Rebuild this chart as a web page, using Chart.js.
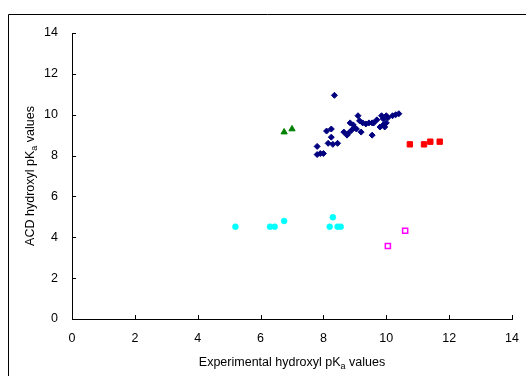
<!DOCTYPE html>
<html>
<head>
<meta charset="utf-8">
<script src="https://cdn.jsdelivr.net/npm/chart.js@4.4.1/dist/chart.umd.min.js"></script>
<style>
  html, body { margin: 0; padding: 0; background: #fff; overflow: hidden; }
  canvas { display: block; }
</style>
</head>
<body>
<canvas id="chart" width="526" height="376"></canvas>
<script>
// ── Data ─────────────────────────────────────────────────────
const blueX = [8.35, 7.8, 7.8, 7.9, 8.0, 8.1, 8.25, 8.25, 8.15, 8.3, 8.45, 8.65, 8.75, 8.85, 8.9,
               9.0, 9.1, 9.15, 9.2, 9.25, 9.45, 9.55, 9.55, 9.7, 9.6, 9.85, 9.9, 9.9, 9.95, 9.8,
               10.0, 10.0, 10.05, 10.3, 10.4, 10.2, 8.8, 9.05, 9.35, 8.95];
const blueY = [10.95, 8.45, 8.05, 8.1, 8.1, 9.2, 9.3, 8.9, 8.6, 8.55, 8.6, 9.15, 9.0, 9.6, 9.25,
               9.35, 9.95, 9.7, 9.15, 9.6, 9.6, 9.0, 9.6, 9.75, 9.6, 9.95, 9.8, 9.5, 9.4, 9.4,
               9.95, 9.6, 9.85, 10.0, 10.05, 9.95, 9.1, 9.3, 9.55, 9.5];

const greenX = [6.75, 7.0];
const greenY = [9.15, 9.3];

const redX = [10.75, 11.2, 11.4, 11.7];
const redY = [8.55, 8.55, 8.68, 8.68];

const cyanX = [5.2, 6.3, 6.45, 6.75, 8.3, 8.2, 8.45, 8.55];
const cyanY = [4.52, 4.52, 4.52, 4.8, 4.98, 4.52, 4.52, 4.52];

const magentaX = [10.05, 10.6];
const magentaY = [3.57, 4.32];

const xTicks = [0, 2, 4, 6, 8, 10, 12, 14];
const yTicks = [0, 2, 4, 6, 8, 10, 12, 14];

const FONT = "'Liberation Sans', Arial, sans-serif";

const pts = (xs, ys) => xs.map((x, i) => ({ x, y: ys[i] }));

// ── Frame, inner ticks and subscripted axis titles ───────────
function drawSubText(ctx, parts, x, y) {
  // parts: [text, sub, text]
  const big = '12.5px ' + FONT;
  const small = '9px ' + FONT;
  ctx.font = big;
  const w0 = ctx.measureText(parts[0]).width;
  const w2 = ctx.measureText(parts[2]).width;
  ctx.font = small;
  const w1 = ctx.measureText(parts[1]).width;
  let cx = x - (w0 + w1 + w2) / 2;
  ctx.textAlign = 'left';
  ctx.textBaseline = 'alphabetic';
  ctx.font = big;
  ctx.fillText(parts[0], cx, y);
  cx += w0;
  ctx.font = small;
  ctx.fillText(parts[1], cx, y + 3);
  cx += w1;
  ctx.font = big;
  ctx.fillText(parts[2], cx, y);
}

const decor = {
  id: 'decor',
  beforeDraw(chart) {
    const ctx = chart.ctx;
    ctx.save();
    ctx.strokeStyle = '#000';
    ctx.lineWidth = 1;
    ctx.beginPath();
    ctx.moveTo(8.5, 376);
    ctx.lineTo(8.5, 14.5);
    ctx.lineTo(526, 14.5);
    ctx.stroke();
    ctx.restore();
  },
  afterDraw(chart) {
    const { ctx, chartArea: a, scales } = chart;
    ctx.save();
    ctx.strokeStyle = '#000';
    ctx.lineWidth = 1;
    ctx.beginPath();
    xTicks.forEach((v) => {
      const px = Math.round(scales.x.getPixelForValue(v)) + 0.5;
      ctx.moveTo(px, a.bottom);
      ctx.lineTo(px, a.bottom - 4);
    });
    yTicks.forEach((v) => {
      const py = Math.round(scales.y.getPixelForValue(v)) + 0.5;
      ctx.moveTo(a.left, py);
      ctx.lineTo(a.left + 4, py);
    });
    ctx.stroke();

    ctx.fillStyle = '#000';
    drawSubText(ctx, ['Experimental hydroxyl pK', 'a', ' values'], (a.left + a.right) / 2, 366);

    ctx.translate(34, (a.top + a.bottom) / 2);
    ctx.rotate(-Math.PI / 2);
    drawSubText(ctx, ['ACD hydroxyl pK', 'a', ' values'], 0, 0);
    ctx.restore();
  },
};

// ── Chart ────────────────────────────────────────────────────
new Chart(document.getElementById('chart'), {
  type: 'scatter',
  data: {
    datasets: [
      { data: pts(blueX, blueY), pointStyle: 'rectRot', radius: 3, borderWidth: 1, backgroundColor: '#000080', borderColor: '#000080' },
      { data: pts(greenX, greenY), pointStyle: 'triangle', radius: 3.6, borderWidth: 1, backgroundColor: '#008000', borderColor: '#008000' },
      { data: pts(redX, redY), pointStyle: 'rect', radius: 3.8, borderWidth: 1, backgroundColor: '#ff0000', borderColor: '#ff0000' },
      { data: pts(cyanX, cyanY), pointStyle: 'circle', radius: 3, borderWidth: 0.5, backgroundColor: '#00ffff', borderColor: '#00ffff' },
      { data: pts(magentaX, magentaY), pointStyle: 'rect', radius: 3.6, borderWidth: 1.5, backgroundColor: '#ffffff', borderColor: '#ff00ff' },
    ],
  },
  options: {
    responsive: false,
    animation: false,
    events: [],
    layout: { autoPadding: false, padding: { top: 33, right: 14, left: 0, bottom: 0 } },
    plugins: { legend: { display: false }, tooltip: { enabled: false } },
    scales: {
      x: {
        type: 'linear', min: 0, max: 14,
        afterBuildTicks: (s) => { s.ticks = xTicks.map((v) => ({ value: v })); },
        afterFit: (s) => { s.height = 57; },
        // tick marks are drawn inside by the plugin; tickLength only spaces the labels
        grid: { display: false, drawTicks: true, tickLength: 12 },
        border: { display: true, color: '#000', width: 1 },
        ticks: { color: '#000', padding: 0, font: { family: FONT, size: 12.5 } },
      },
      y: {
        type: 'linear', min: 0, max: 14,
        afterBuildTicks: (s) => { s.ticks = yTicks.map((v) => ({ value: v })); },
        afterFit: (s) => { s.width = 72; },
        grid: { display: false, drawTicks: false },
        border: { display: true, color: '#000', width: 1 },
        ticks: { color: '#000', padding: 14, font: { family: FONT, size: 12.5 } },
      },
    },
  },
  plugins: [decor],
});
</script>
</body>
</html>
